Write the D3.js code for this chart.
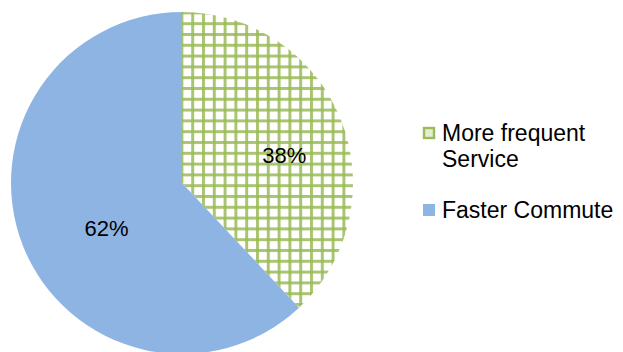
<!DOCTYPE html>
<html>
<head>
<meta charset="utf-8">
<script src="https://cdn.jsdelivr.net/npm/d3@7/dist/d3.min.js"></script>
<style>
  html, body { margin: 0; padding: 0; background: #ffffff; }
  svg { display: block; font-family: "Liberation Sans", Arial, sans-serif; }
</style>
</head>
<body>
<svg id="chart" width="623" height="352"></svg>
<script>
const categories = ["More frequent Service", "Faster Commute"];
const legendLines = [["More frequent", "Service"], ["Faster Commute"]];
const values = [38, 62];
const labels = ["38%", "62%"];

const W = 623, H = 352;
const cx = 182, cy = 183, R = 171;
const blue = "#8EB4E3", green = "#9BBB59";

const svg = d3.select("#chart");
const defs = svg.append("defs");
const pat = defs.append("pattern")
  .attr("id", "grid").attr("patternUnits", "userSpaceOnUse")
  .attr("width", 10.8).attr("height", 10.8)
  .attr("x", cx).attr("y", 12);
pat.append("rect").attr("width", 10.8).attr("height", 10.8).attr("fill", "#ffffff");
pat.append("rect").attr("x", 0).attr("y", 0).attr("width", 3).attr("height", 10.8).attr("fill", green).attr("opacity", 0.85);
pat.append("rect").attr("x", 0).attr("y", 0).attr("width", 10.8).attr("height", 3).attr("fill", green).attr("opacity", 0.85);

const fills = ["url(#grid)", blue];

const pie = d3.pie().sort(null).value(d => d)(values);
const arc = d3.arc().innerRadius(0).outerRadius(R);
const labelArc = d3.arc().innerRadius(R * 0.6).outerRadius(R * 0.6);

const g = svg.append("g").attr("transform", `translate(${cx},${cy})`);
g.selectAll("path.slice").data(pie).join("path")
  .attr("class", "slice")
  .attr("d", arc)
  .attr("fill", (d, i) => fills[i]);

const nudges = [[7, 10], [20, 8]];
g.selectAll("text.lbl").data(pie).join("text")
  .attr("class", "lbl")
  .attr("x", (d, i) => labelArc.centroid(d)[0] + nudges[i][0])
  .attr("y", (d, i) => labelArc.centroid(d)[1] + nudges[i][1])
  .attr("text-anchor", "middle")
  .attr("dominant-baseline", "central")
  .attr("font-size", 22)
  .attr("fill", "#000")
  .text((d, i) => labels[i]);

// Legend
const lg = svg.append("g");
const legendTop = [127, 204];
categories.forEach((c, i) => {
  const y = legendTop[i];
  if (i === 0) {
    lg.append("rect").attr("x", 424).attr("y", y + 1).attr("width", 10).attr("height", 10)
      .attr("fill", "#E4EDD2").attr("stroke", green).attr("stroke-width", 2.4);
  } else {
    lg.append("rect").attr("x", 423).attr("y", y).attr("width", 12).attr("height", 12)
      .attr("fill", blue);
  }
  const t = lg.append("text").attr("x", 442).attr("y", y + 14)
    .attr("font-size", 23).attr("fill", "#000");
  legendLines[i].forEach((line, j) => {
    t.append("tspan").attr("x", 442).attr("dy", j === 0 ? 0 : 26).text(line);
  });
});
</script>
</body>
</html>
